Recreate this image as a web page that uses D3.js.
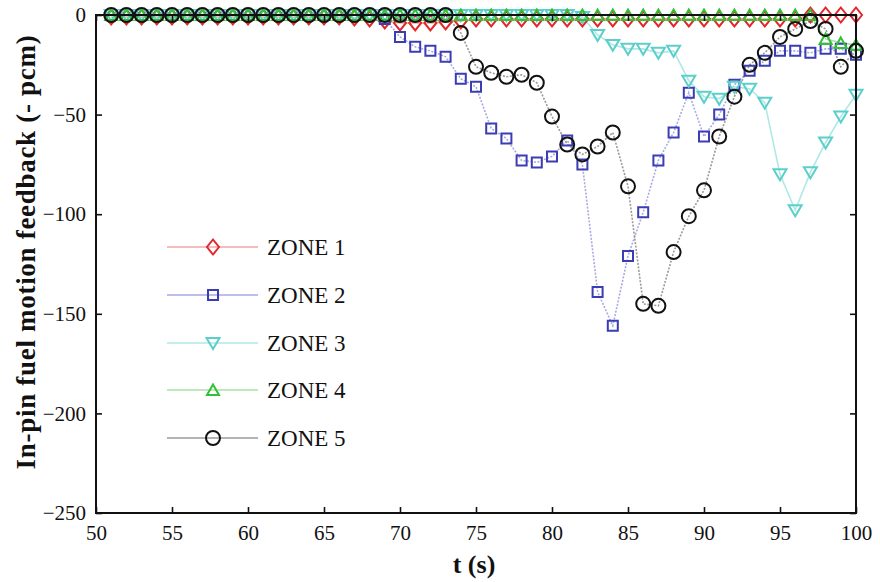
<!DOCTYPE html>
<html>
<head>
<meta charset="utf-8">
<script src="https://cdn.jsdelivr.net/npm/d3@7"></script>
<style>
  html, body { margin: 0; padding: 0; background: #fff; }
  svg { display: block; }
  text { font-family: "Liberation Serif", "Times New Roman", serif; fill: #111; }
</style>
</head>
<body>
<svg id="chart" width="880" height="582"></svg>
<script>
// Time axis (s)
const times = d3.range(51, 101);

// In-pin fuel motion feedback per zone (- pcm), one value per second from 51 s to 100 s
const zone1 = [
  -1, -1, -1, -1, -1, -1, -1, -1, -1, -1, -1, -1, -1, -1, -1,
  -1, -1.5, -2, -3, -4, -4, -4, -3.5, -3,
  -2, -2, -2, -2, -2, -2, -2, -2, -2, -2, -2, -2, -2, -2, -2, -2, -2, -2, -2, -2, -2, -2,
  0, 0, 0, 0
];
const zone2 = [
  0, 0, 0, 0, 0, 0, 0, 0, 0, 0, 0, 0, 0, 0, 0, 0, 0, 0,
  -2, -11, -16, -18, -21, -32, -36, -57, -62, -73, -74, -71, -63, -75,
  -139, -156, -121, -99, -73, -59, -39, -61, -50, -35, -28, -23,
  -18, -18, -19, -17, -17, -20
];
const zone3 = [
  0, 0, 0, 0, 0, 0, 0, 0, 0, 0, 0, 0, 0, 0, 0, 0, 0, 0, 0, 0,
  0, 0, 0, 0, 0, 0, 0, 0, 0, 0, 0,
  -1, -10, -15, -17, -17, -19, -18, -33, -41, -42, -36, -37, -44,
  -80, -98, -79, -64, -51, -40
];
const zone4 = [
  0, 0, 0, 0, 0, 0, 0, 0, 0, 0, 0, 0, 0, 0, 0, 0, 0, 0, 0, 0,
  0, 0, 0, 0, 0, 0, 0, 0, 0, 0, 0, 0, 0, 0, 0, 0, 0, 0, 0, 0,
  0, 0, 0, 0, 0, 0, 0,
  -12, -14, -15
];
const zone5 = [
  0, 0, 0, 0, 0, 0, 0, 0, 0, 0, 0, 0, 0, 0, 0, 0, 0, 0, 0, 0, 0, 0, 0,
  -9, -26, -29, -31, -30, -34, -51, -65, -70, -66, -59, -86,
  -145, -146, -119, -101, -88, -61, -41, -25, -19, -11, -7, -3, -7, -26, -18
];

const zoneNames = ["ZONE 1", "ZONE 2", "ZONE 3", "ZONE 4", "ZONE 5"];
const xTicks = [50, 55, 60, 65, 70, 75, 80, 85, 90, 95, 100];
const yTicks = [0, -50, -100, -150, -200, -250];

// Marker outlines, centred on the data point
const markerPaths = {
  diamond: "M0,-7.5L6,0L0,7.5L-6,0Z",
  square: "M-5,-5H5V5H-5Z",
  triDown: "M-6.5,-5H6.5L0,6Z",
  triUp: "M0,-5.5L6,5H-6Z",
  circle: "M7,0A7,7 0 1,1 -7,0A7,7 0 1,1 7,0Z"
};

const series = [
  { name: zoneNames[0], values: zone1, stroke: "#e4262b", line: "#f2a6a6", dash: null, marker: "diamond" },
  { name: zoneNames[1], values: zone2, stroke: "#3a3db4", line: "#a9a9e6", dash: "2,1.5", marker: "square" },
  { name: zoneNames[2], values: zone3, stroke: "#5ccfca", line: "#aee9e5", dash: null, marker: "triDown" },
  { name: zoneNames[3], values: zone4, stroke: "#33bf36", line: "#a6e3a6", dash: null, marker: "triUp" },
  { name: zoneNames[4], values: zone5, stroke: "#121212", line: "#9a9a9a", dash: "2,1.5", marker: "circle" }
];

const svg = d3.select("#chart");
const margin = { left: 96, right: 24, top: 15, bottom: 69 };
const W = 880, H = 582;

const x = d3.scaleLinear().domain([50, 100]).range([margin.left, W - margin.right]);
const y = d3.scaleLinear().domain([-250, 0]).range([H - margin.bottom, margin.top]);

const plot = svg.append("g");

// Series lines and markers
const lineGen = d3.line().x((d, i) => x(times[i])).y(d => y(d));

series.forEach(s => {
  plot.append("path")
    .attr("d", lineGen(s.values))
    .attr("fill", "none")
    .attr("stroke", s.line)
    .attr("stroke-width", 1.6)
    .attr("stroke-dasharray", s.dash);
});

series.forEach(s => {
  plot.append("g").selectAll("path")
    .data(s.values)
    .join("path")
    .attr("transform", (d, i) => `translate(${x(times[i])},${y(d)})`)
    .attr("d", markerPaths[s.marker])
    .attr("fill", "none")
    .attr("stroke", s.stroke)
    .attr("stroke-width", 2);
});

// Axes: ticks point inward on all four sides
const tickLen = 6;
const gBottom = svg.append("g").attr("transform", `translate(0,${y(-250)})`)
  .call(d3.axisBottom(x).tickValues(xTicks).tickSize(-tickLen).tickPadding(12).tickFormat(d3.format("d")));
const gTop = svg.append("g").attr("transform", `translate(0,${y(0)})`)
  .call(d3.axisTop(x).tickValues(xTicks).tickSize(-tickLen).tickFormat(""));
const gLeft = svg.append("g").attr("transform", `translate(${x(50)},0)`)
  .call(d3.axisLeft(y).tickValues(yTicks).tickSize(-tickLen).tickPadding(10).tickFormat(d3.format("d")));
const gRight = svg.append("g").attr("transform", `translate(${x(100)},0)`)
  .call(d3.axisRight(y).tickValues(yTicks).tickSize(-tickLen).tickFormat(""));

[gBottom, gTop, gLeft, gRight].forEach(g => {
  g.select(".domain").remove();
  g.selectAll(".tick line").attr("stroke", "#111").attr("stroke-width", 1.6);
  g.selectAll("text").attr("font-size", 21).attr("fill", "#111")
    .style("font-family", '"Liberation Serif", "Times New Roman", serif');
});
gBottom.selectAll("text").attr("dy", "0.71em");

// Frame
svg.append("rect")
  .attr("x", x(50)).attr("y", y(0))
  .attr("width", x(100) - x(50)).attr("height", y(-250) - y(0))
  .attr("fill", "none").attr("stroke", "#111").attr("stroke-width", 2);

// Axis titles
svg.append("text")
  .attr("x", (x(50) + x(100)) / 2 - 2)
  .attr("y", 573)
  .attr("text-anchor", "middle")
  .attr("font-size", 26)
  .attr("font-weight", "bold")
  .text("t (s)");

svg.append("text")
  .attr("transform", "translate(35,252) rotate(-90)")
  .attr("text-anchor", "middle")
  .attr("font-size", 27)
  .attr("font-weight", "bold")
  .attr("letter-spacing", 0.7)
  .text("In-pin fuel motion feedback (- pcm)");

// Legend
const legend = svg.append("g");
const legendRows = [247, 295, 343, 390, 438];
series.forEach((s, i) => {
  const gy = legendRows[i];
  legend.append("line")
    .attr("x1", 167).attr("x2", 258).attr("y1", gy).attr("y2", gy)
    .attr("stroke", s.line).attr("stroke-width", 1.6);
  legend.append("path")
    .attr("transform", `translate(213,${gy})`)
    .attr("d", markerPaths[s.marker])
    .attr("fill", "none").attr("stroke", s.stroke).attr("stroke-width", 2);
  legend.append("text")
    .attr("x", 267).attr("y", gy).attr("dy", "0.35em")
    .attr("font-size", 23)
    .text(s.name);
});
</script>
</body>
</html>
